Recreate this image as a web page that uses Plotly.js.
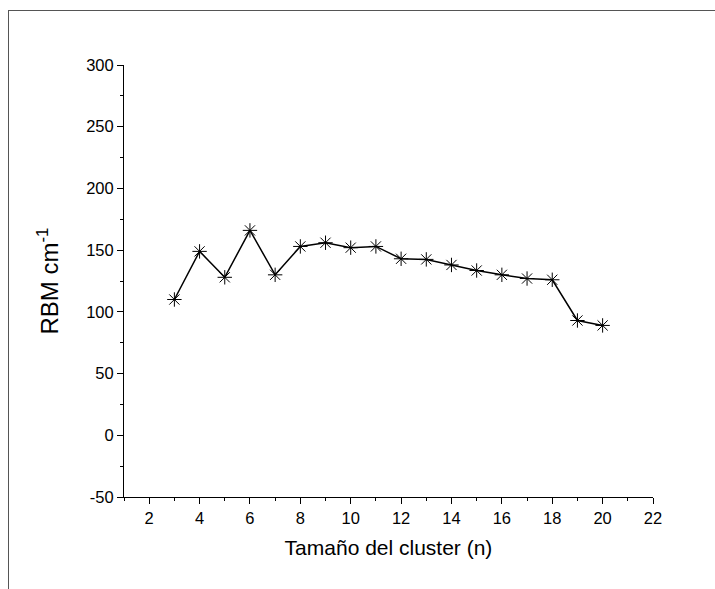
<!DOCTYPE html>
<html>
<head>
<meta charset="utf-8">
<script src="https://cdn.plot.ly/plotly-3.0.1.min.js"></script>
<style>
  html, body { margin: 0; padding: 0; background: #fff; }
  #wrap { position: relative; width: 715px; height: 589px; }
  #frame { position: absolute; left: 8px; top: 10px; width: 707px; height: 579px;
           border-top: 1px solid #555; border-left: 1px solid #555; pointer-events: none; }
  #chart { position: absolute; left: 0; top: 0; width: 715px; height: 589px; }
</style>
</head>
<body>
<div id="wrap">
  <div id="chart"></div>
  <div id="frame"></div>
</div>
<script>
const clusterSize = [3, 4, 5, 6, 7, 8, 9, 10, 11, 12, 13, 14, 15, 16, 17, 18, 19, 20];
const rbmValues = [110, 149, 128, 166, 130, 153, 156, 152, 153, 143, 142.5, 138, 133.5, 130, 127, 126, 93, 89];
const yTickVals = [-50, 0, 50, 100, 150, 200, 250, 300];
const yTickText = ['-50', '0', '50', '100', '150', '200', '250', '300'];
const xTickVals = [2, 4, 6, 8, 10, 12, 14, 16, 18, 20, 22];
const xTickText = ['2', '4', '6', '8', '10', '12', '14', '16', '18', '20', '22'];
const xTitle = 'Tamaño del cluster (n)';
const yTitle = 'RBM cm<sup>-1</sup>';

const trace = {
  x: clusterSize,
  y: rbmValues,
  type: 'scatter',
  mode: 'lines+markers',
  line: { color: '#000', width: 1.5 },
  marker: { symbol: 'asterisk-open', size: 12, color: '#000', line: { color: '#000', width: 1 } },
  showlegend: false
};

const font = { family: 'Liberation Sans, Arial, sans-serif', color: '#000' };

const layout = {
  width: 715, height: 589,
  margin: { l: 124, r: 62, t: 65, b: 92 },
  paper_bgcolor: '#fff', plot_bgcolor: '#fff',
  font: Object.assign({ size: 16 }, font),
  xaxis: {
    range: [1, 22], tickmode: 'array', tickvals: xTickVals, ticktext: xTickText,
    showgrid: false, zeroline: false,
    showline: true, linecolor: '#000', linewidth: 1,
    ticks: 'outside', ticklen: 6, tickwidth: 1, tickcolor: '#000',
    minor: { dtick: 1, tick0: 1, ticks: 'outside', ticklen: 3, tickcolor: '#000', showgrid: false },
    tickfont: Object.assign({ size: 16.5 }, font),
    title: { text: xTitle, font: Object.assign({ size: 21 }, font), standoff: 14 }
  },
  yaxis: {
    range: [-50, 300], tickmode: 'array', tickvals: yTickVals, ticktext: yTickText,
    showgrid: false, zeroline: false,
    showline: true, linecolor: '#000', linewidth: 1,
    ticks: 'outside', ticklen: 6, tickwidth: 1, tickcolor: '#000',
    minor: { dtick: 25, tick0: 0, ticks: 'outside', ticklen: 3, tickcolor: '#000', showgrid: false },
    tickfont: Object.assign({ size: 16.5 }, font),
    title: { text: yTitle, font: Object.assign({ size: 24 }, font), standoff: 20 }
  }
};

Plotly.newPlot('chart', [trace], layout, { displayModeBar: false, staticPlot: true });
</script>
</body>
</html>
